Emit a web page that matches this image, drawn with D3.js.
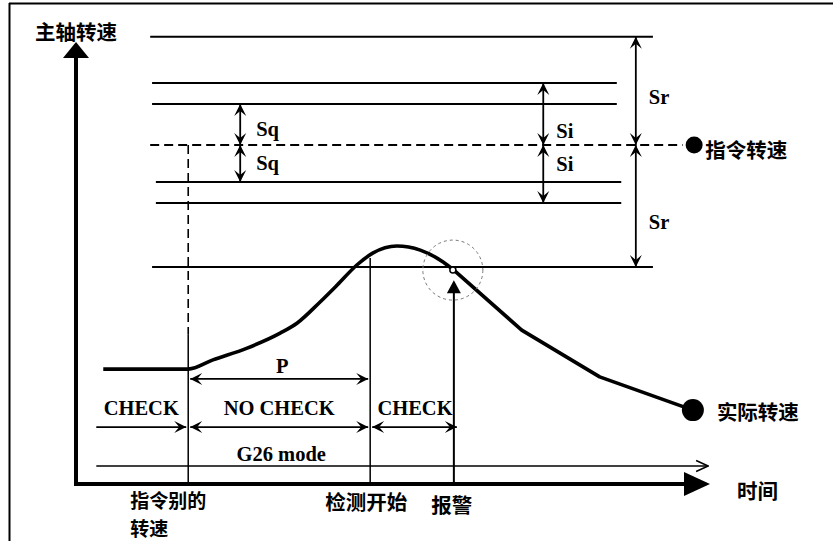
<!DOCTYPE html>
<html>
<head>
<meta charset="utf-8">
<script src="https://cdn.jsdelivr.net/npm/d3@7/dist/d3.min.js"></script>
<style>
  html, body { margin: 0; padding: 0; background: #fff; }
  svg { display: block; }
  .lat { font-family: "Liberation Serif", "Times New Roman", serif; font-weight: 700; font-size: 20.5px; fill: #000; }
  .cjk { font-family: "Noto Sans CJK SC", "Noto Sans", sans-serif; font-weight: 700; font-size: 20.5px; fill: #000; }
  .cjk.small { font-size: 19px; }
</style>
</head>
<body>
<svg id="chart" width="833" height="541"></svg>
<script>
// ---------------- data (time in ms, speed in rpm) ----------------
const hLineSpeed = [1319, 1183, 1121, 891, 829, 640];
const hLineStart = [117, 120, 120, 126, 126, 120];
const hLineEnd   = [910, 853, 853, 860, 860, 910];

const cmdSpeed = 1000;
const cmdLineStart = 117, cmdLineEnd = 957, cmdDotT = 975;

const bandNames = ["Sq", "Si", "Sr"];
const bandT     = [259, 737, 883];
const bandUpper = [1121, 1183, 1319];
const bandLower = [891, 829, 640];

const riseT = [43, 177, 216, 270, 322, 349, 385, 412, 443, 468, 506, 543, 579, 596];
const riseS = [339, 339, 366, 401, 445, 475, 537, 587, 646, 681, 702, 690, 655, 631];
const fallT = [596, 703, 826, 973];
const fallS = [631, 454, 316, 218];

const tCmd = 177, tCheck = 464, tAlarm = 596;
const rowStart = 32, g26End = 997;
const sP = 310, sRow = 168, sG26 = 53;
const sDashEnd = 440, sCheckTop = 667, sAlarmTip = 595;

const segNames = ["CHECK", "NO CHECK", "CHECK"];
const segStart = [rowStart, tCmd, tCheck];
const segEnd   = [tCmd, tCheck, tAlarm];

const axisTop = 1304, axisRight = 1000;

// ---------------- scales ----------------
const x = d3.scaleLinear().domain([0, 1000]).range([76, 710]);
const y = d3.scaleLinear().domain([0, 1000]).range([484, 145]);

const svg = d3.select("#chart");
svg.append("rect").attr("width", 833).attr("height", 541).attr("fill", "#fff");

// border (top + left)
svg.append("line").attr("x1", 9).attr("x2", 833).attr("y1", 3.5).attr("y2", 3.5).attr("stroke", "#000").attr("stroke-width", 2);
svg.append("line").attr("x1", 9.5).attr("x2", 9.5).attr("y1", 3).attr("y2", 541).attr("stroke", "#000").attr("stroke-width", 2);

// markers
const defs = svg.append("defs");
defs.append("marker").attr("id", "stealth")
  .attr("markerUnits", "userSpaceOnUse").attr("viewBox", "-13 -7 14 14")
  .attr("markerWidth", 14).attr("markerHeight", 14).attr("refX", 0).attr("refY", 0)
  .attr("orient", "auto-start-reverse")
  .append("path").attr("d", "M0,0 L-12,-6 L-7,0 L-12,6 Z").attr("fill", "#000");
defs.append("marker").attr("id", "open")
  .attr("markerUnits", "userSpaceOnUse").attr("viewBox", "-13 -7 14 14")
  .attr("markerWidth", 14).attr("markerHeight", 14).attr("refX", 0).attr("refY", 0)
  .attr("orient", "auto")
  .append("path").attr("d", "M-12,-5.5 L0,0 L-12,5.5").attr("fill", "none").attr("stroke", "#000").attr("stroke-width", 1.5);

// horizontal level lines
hLineSpeed.forEach((s, i) => {
  svg.append("line")
    .attr("x1", x(hLineStart[i])).attr("x2", x(hLineEnd[i]))
    .attr("y1", y(s)).attr("y2", y(s))
    .attr("stroke", "#000").attr("stroke-width", 2);
});

// command speed dashed line + dot
svg.append("line")
  .attr("x1", x(cmdLineStart)).attr("x2", x(cmdLineEnd))
  .attr("y1", y(cmdSpeed)).attr("y2", y(cmdSpeed))
  .attr("stroke", "#000").attr("stroke-width", 2).attr("stroke-dasharray", "9,5");
svg.append("circle").attr("cx", x(cmdDotT)).attr("cy", y(cmdSpeed)).attr("r", 8.5).attr("fill", "#000");
svg.append("text").attr("class", "cjk").attr("x", x(cmdDotT) + 11).attr("y", y(cmdSpeed) + 4)
  .attr("dominant-baseline", "central").text("指令转速");

// band arrows
bandNames.forEach((n, i) => {
  const bx = x(bandT[i]);
  [[bandUpper[i], cmdSpeed], [cmdSpeed, bandLower[i]]].forEach(pair => {
    svg.append("line")
      .attr("x1", bx).attr("x2", bx)
      .attr("y1", y(pair[0])).attr("y2", y(pair[1]))
      .attr("stroke", "#000").attr("stroke-width", 1.8)
      .attr("marker-start", "url(#stealth)").attr("marker-end", "url(#stealth)");
  });
});
// band labels
svg.append("text").attr("class", "lat").attr("x", x(bandT[0]) + 16).attr("y", y(cmdSpeed) - 9).text("Sq");
svg.append("text").attr("class", "lat").attr("x", x(bandT[0]) + 16).attr("y", y(cmdSpeed) + 25).text("Sq");
svg.append("text").attr("class", "lat").attr("x", x(bandT[1]) + 13).attr("y", y(cmdSpeed) - 7).text("Si");
svg.append("text").attr("class", "lat").attr("x", x(bandT[1]) + 13).attr("y", y(cmdSpeed) + 26).text("Si");
svg.append("text").attr("class", "lat").attr("x", x(bandT[2]) + 13).attr("y", (y(bandUpper[2]) + y(cmdSpeed)) / 2 + 13).text("Sr");
svg.append("text").attr("class", "lat").attr("x", x(bandT[2]) + 13).attr("y", (y(bandLower[2]) + y(cmdSpeed)) / 2 + 23).text("Sr");

// vertical at command change (dashed then solid)
svg.append("line").attr("x1", x(tCmd)).attr("x2", x(tCmd))
  .attr("y1", y(cmdSpeed)).attr("y2", y(sDashEnd))
  .attr("stroke", "#000").attr("stroke-width", 1.6).attr("stroke-dasharray", "9,5");
svg.append("line").attr("x1", x(tCmd)).attr("x2", x(tCmd))
  .attr("y1", y(sDashEnd)).attr("y2", y(0))
  .attr("stroke", "#000").attr("stroke-width", 1.5);

// vertical at check start
svg.append("line").attr("x1", x(tCheck)).attr("x2", x(tCheck))
  .attr("y1", y(sCheckTop)).attr("y2", y(0))
  .attr("stroke", "#000").attr("stroke-width", 1.5);

// alarm arrow
const ax = x(tAlarm);
svg.append("line").attr("x1", ax).attr("x2", ax)
  .attr("y1", y(sAlarmTip) + 10).attr("y2", y(0))
  .attr("stroke", "#000").attr("stroke-width", 2);
svg.append("path")
  .attr("d", `M${ax},${y(sAlarmTip) - 2} L${ax - 7},${y(sAlarmTip) + 11} L${ax + 7},${y(sAlarmTip) + 11} Z`)
  .attr("fill", "#000");

// actual speed curve
const rise = riseT.map((t, i) => [t, riseS[i]]);
const fall = fallT.map((t, i) => [t, fallS[i]]);
const lineSmooth = d3.line().x(d => x(d[0])).y(d => y(d[1])).curve(d3.curveMonotoneX);
const lineStraight = d3.line().x(d => x(d[0])).y(d => y(d[1]));
svg.append("path").attr("d", lineSmooth(rise)).attr("fill", "none").attr("stroke", "#000")
  .attr("stroke-width", 3.6).attr("stroke-linejoin", "round");
svg.append("path").attr("d", lineStraight(fall)).attr("fill", "none").attr("stroke", "#000")
  .attr("stroke-width", 3.6).attr("stroke-linejoin", "round");
svg.append("circle").attr("cx", x(fallT[fallT.length - 1])).attr("cy", y(fallS[fallS.length - 1]))
  .attr("r", 11).attr("fill", "#000");
svg.append("text").attr("class", "cjk").attr("x", x(fallT[fallT.length - 1]) + 24)
  .attr("y", y(fallS[fallS.length - 1]) + 1).attr("dominant-baseline", "central").text("实际转速");

// alarm point markers
svg.append("circle").attr("cx", x(tAlarm) - 1).attr("cy", y(riseS[riseS.length - 1]))
  .attr("r", 30).attr("fill", "none").attr("stroke", "#777").attr("stroke-width", 1).attr("stroke-dasharray", "3,3");
svg.append("circle").attr("cx", x(tAlarm) - 1).attr("cy", y(riseS[riseS.length - 1]))
  .attr("r", 3).attr("fill", "#fff").attr("stroke", "#000").attr("stroke-width", 1.5);

// P arrow
svg.append("line").attr("x1", x(tCmd) + 2).attr("x2", x(tCheck) - 2)
  .attr("y1", y(sP)).attr("y2", y(sP))
  .attr("stroke", "#000").attr("stroke-width", 1.8)
  .attr("marker-start", "url(#stealth)").attr("marker-end", "url(#stealth)");
svg.append("text").attr("class", "lat").attr("text-anchor", "middle")
  .attr("x", (x(tCmd) + x(tCheck)) / 2 + 3).attr("y", y(sP) - 6).text("P");

// CHECK row
segNames.forEach((n, i) => {
  const l = svg.append("line")
    .attr("x1", x(segStart[i]) + (i === 0 ? 0 : 2)).attr("x2", x(segEnd[i]) - (i === 2 ? -3 : 2))
    .attr("y1", y(sRow)).attr("y2", y(sRow))
    .attr("stroke", "#000").attr("stroke-width", 1.8)
    .attr("marker-end", "url(#stealth)");
  if (i > 0) l.attr("marker-start", "url(#stealth)");
  svg.append("text").attr("class", "lat").attr("text-anchor", "middle")
    .attr("x", (x(segStart[i]) + x(segEnd[i])) / 2 + (i === 0 ? -1 : i === 2 ? 3 : 0))
    .attr("y", y(sRow) - 12).text(n);
});

// G26 mode line
svg.append("line").attr("x1", x(rowStart)).attr("x2", x(g26End))
  .attr("y1", y(sG26)).attr("y2", y(sG26))
  .attr("stroke", "#000").attr("stroke-width", 1.6).attr("marker-end", "url(#open)");
svg.append("text").attr("class", "lat").attr("text-anchor", "middle")
  .attr("x", (x(tCmd) + x(tCheck)) / 2 + 2).attr("y", y(sG26) - 5).text("G26 mode");

// axes
svg.append("line").attr("x1", x(0)).attr("x2", x(0)).attr("y1", y(0) + 2).attr("y2", y(axisTop) + 14)
  .attr("stroke", "#000").attr("stroke-width", 4);
svg.append("path")
  .attr("d", `M${x(0)},${y(axisTop)} L${x(0) - 13},${y(axisTop) + 16} L${x(0) + 13},${y(axisTop) + 16} Z`)
  .attr("fill", "#000");
svg.append("line").attr("x1", x(0) - 2).attr("x2", x(axisRight) - 24).attr("y1", y(0)).attr("y2", y(0))
  .attr("stroke", "#000").attr("stroke-width", 4);
svg.append("path")
  .attr("d", `M${x(axisRight)},${y(0)} L${x(axisRight) - 26},${y(0) - 12} L${x(axisRight) - 26},${y(0) + 12} Z`)
  .attr("fill", "#000");

// axis titles & event labels
svg.append("text").attr("class", "cjk").attr("x", 35).attr("y", 31).attr("dominant-baseline", "central").text("主轴转速");
svg.append("text").attr("class", "cjk").attr("x", x(axisRight) + 27).attr("y", y(0) + 6).attr("dominant-baseline", "central").text("时间");
svg.append("text").attr("class", "cjk small").attr("x", x(tCmd) - 58).attr("y", y(0) + 15).attr("dominant-baseline", "central").text("指令别的");
svg.append("text").attr("class", "cjk small").attr("x", x(tCmd) - 58).attr("y", y(0) + 43).attr("dominant-baseline", "central").text("转速");
svg.append("text").attr("class", "cjk").attr("text-anchor", "middle").attr("x", x(tCheck) - 4).attr("y", y(0) + 17).attr("dominant-baseline", "central").text("检测开始");
svg.append("text").attr("class", "cjk").attr("text-anchor", "middle").attr("x", x(tAlarm) - 2).attr("y", y(0) + 20).attr("dominant-baseline", "central").text("报警");
</script>
</body>
</html>
